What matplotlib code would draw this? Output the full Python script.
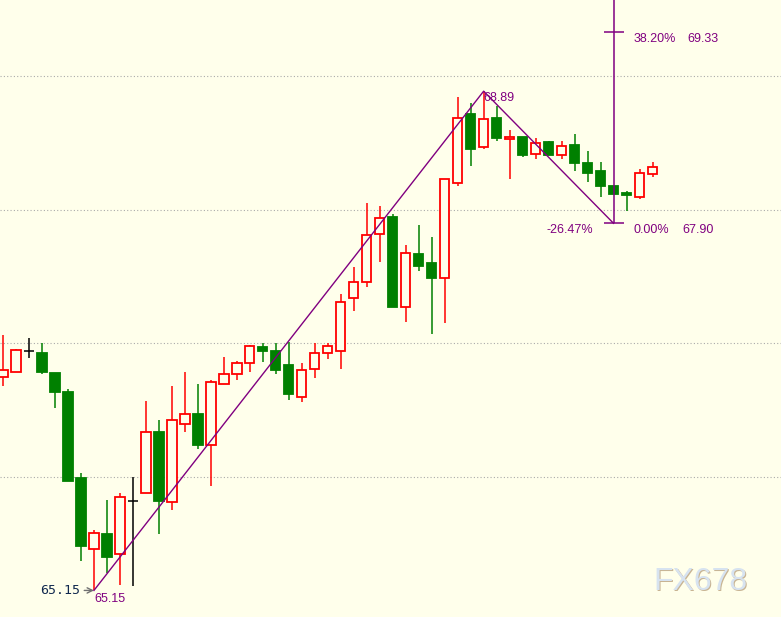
# Candlestick chart with a swing line and two fibonacci levels, FX678 style
import matplotlib
matplotlib.use("Agg")
import matplotlib.pyplot as plt
from matplotlib.patches import Rectangle

# OHLC values (one entry per candle)
opens = [66.75, 66.79, 66.94, 66.93, 66.78, 66.64, 65.99, 65.46, 65.57, 65.42,
         65.82, 65.88, 66.34, 65.81, 66.40, 66.47, 66.24, 66.70, 66.77, 66.85,
         66.97, 66.94, 66.84, 66.60, 66.81, 66.93, 66.94, 67.34, 67.46, 67.82,
         67.95, 67.27, 67.67, 67.60, 67.49, 68.20, 68.72, 68.47, 68.69, 68.53,
         68.55, 68.42, 68.51, 68.41, 68.49, 68.35, 68.29, 68.18, 68.13, 68.10,
         68.27]
highs = [67.06, 66.96, 67.04, 67.00, 66.78, 66.66, 66.03, 65.60, 65.83, 65.88,
         66.00, 66.57, 66.43, 66.68, 66.79, 66.70, 66.73, 66.90, 66.87, 66.99,
         67.00, 67.00, 67.01, 66.85, 67.00, 67.00, 67.37, 67.57, 68.05, 68.03,
         67.97, 67.74, 67.89, 67.80, 68.23, 68.85, 68.80, 68.89, 68.78, 68.60,
         68.55, 68.54, 68.52, 68.52, 68.57, 68.44, 68.36, 68.18, 68.14, 68.31,
         68.36]
lows = [66.68, 66.79, 66.89, 66.77, 66.52, 65.97, 65.37, 65.15, 65.28, 65.19,
        65.18, 65.88, 65.57, 65.75, 66.34, 66.21, 65.93, 66.70, 66.73, 66.79,
        66.86, 66.77, 66.58, 66.56, 66.74, 66.88, 66.81, 67.24, 67.42, 67.61,
        67.27, 67.16, 67.54, 67.07, 67.15, 68.18, 68.33, 68.46, 68.52, 68.23,
        68.40, 68.38, 68.41, 68.38, 68.29, 68.21, 68.10, 68.12, 67.99, 68.08,
        68.25]
closes = [66.80, 66.95, 66.94, 66.79, 66.64, 65.97, 65.48, 65.58, 65.40, 65.85,
          65.82, 66.34, 65.82, 66.43, 66.47, 66.24, 66.71, 66.77, 66.85, 66.98,
          66.94, 66.80, 66.62, 66.80, 66.93, 66.98, 67.31, 67.46, 67.81, 67.94,
          67.27, 67.68, 67.58, 67.49, 68.23, 68.69, 68.46, 68.68, 68.54, 68.55,
          68.41, 68.50, 68.41, 68.48, 68.35, 68.28, 68.18, 68.12, 68.11, 68.28,
          68.32]

# swing line (candle index, price) and fibonacci levels
swing_idx = [7, 37, 47]
swing_price = [65.15, 68.89, 67.90]
swing_change = "-26.47%"
fib_pct = ["0.00%", "38.20%"]
fib_price = [67.90, 69.33]
grid_levels = [66, 67, 68, 69]

bg = "#FFFFEB"
up_color = "#FF0000"
down_color = "#008000"
purple = "#800080"

fig = plt.figure(figsize=(7.81, 6.17), dpi=100, facecolor=bg)
ax = fig.add_axes([0, 0, 1, 1])
ax.set_facecolor(bg)
ax.set_xlim(-0.231, 59.89)
ax.set_ylim(64.951, 69.573)
ax.axis("off")

# dotted price grid
for g in grid_levels:
    ax.axhline(g, color="#AAAAAA", linestyle=(0, (1, 2)), linewidth=0.8, zorder=1)

# candles
w = 0.72
for i in range(len(opens)):
    o, h, l, c = opens[i], highs[i], lows[i], closes[i]
    if c > o:
        ax.vlines(i, c, h, color=up_color, linewidth=1.1, zorder=2)
        ax.vlines(i, l, o, color=up_color, linewidth=1.1, zorder=2)
        ax.add_patch(Rectangle((i - w / 2, o), w, c - o, facecolor=bg,
                               edgecolor=up_color, linewidth=1.3, zorder=3))
    elif c < o:
        ax.vlines(i, l, h, color=down_color, linewidth=1.1, zorder=2)
        ax.add_patch(Rectangle((i - w / 2, c), w, o - c, facecolor=down_color,
                               edgecolor=down_color, linewidth=1.3, zorder=3))
    else:
        ax.vlines(i, l, h, color="black", linewidth=1.1, zorder=2)
        ax.hlines(o, i - 0.4, i + 0.4, color="black", linewidth=1.1, zorder=2)

# swing line and fibonacci tool
ax.plot(swing_idx, swing_price, color=purple, linewidth=1.0, zorder=5)
fx = swing_idx[-1]
ax.vlines(fx, fib_price[0], 70, color=purple, linewidth=1.1, zorder=5)
for p in fib_price:
    ax.hlines(p, fx - 0.77, fx + 0.77, color=purple, linewidth=1.1, zorder=5)

lab = dict(color=purple, fontsize=9, family="Liberation Sans", va="center")
for pct, p in zip(fib_pct, fib_price):
    ax.annotate(pct, xy=(fx, p), xytext=(14.5, -5), textcoords="offset points", ha="left", **lab)
    ax.annotate(f"{p:.2f}", xy=(fx, p), xytext=(53, -5) if pct == "38.20%" else (49.5, -5),
                textcoords="offset points", ha="left", **lab)
ax.annotate(swing_change, xy=(fx, fib_price[0]), xytext=(-15, -5),
            textcoords="offset points", ha="right", **lab)
ax.annotate(f"{swing_price[1]:.2f}", xy=(swing_idx[1], swing_price[1]), xytext=(0, -5),
            textcoords="offset points", ha="left", **lab)
ax.annotate(f"{swing_price[0]:.2f}", xy=(swing_idx[0], swing_price[0]), xytext=(0, -6),
            textcoords="offset points", ha="left", **lab)

# low price marker on the left with arrow
ax.annotate(f"{swing_price[0]:.2f}", xy=(swing_idx[0], swing_price[0]), xytext=(-10, 0),
            textcoords="offset points", ha="right", va="center", color="#10284E",
            fontsize=9.5, family="DejaVu Sans Mono",
            arrowprops=dict(arrowstyle="->", color="#707070", lw=1.0, shrinkA=1, shrinkB=0))

# watermark
fig.text(653 / 781 + 0.0015, 1 - 582 / 617 - 0.002, "FX678", fontsize=23, color="#C8B493",
         family="Liberation Sans", va="center", ha="left")
fig.text(653 / 781, 1 - 582 / 617, "FX678", fontsize=23, color="#D7E3F0",
         family="Liberation Sans", va="center", ha="left")

fig.savefig("out.png", dpi=100, facecolor=bg)
